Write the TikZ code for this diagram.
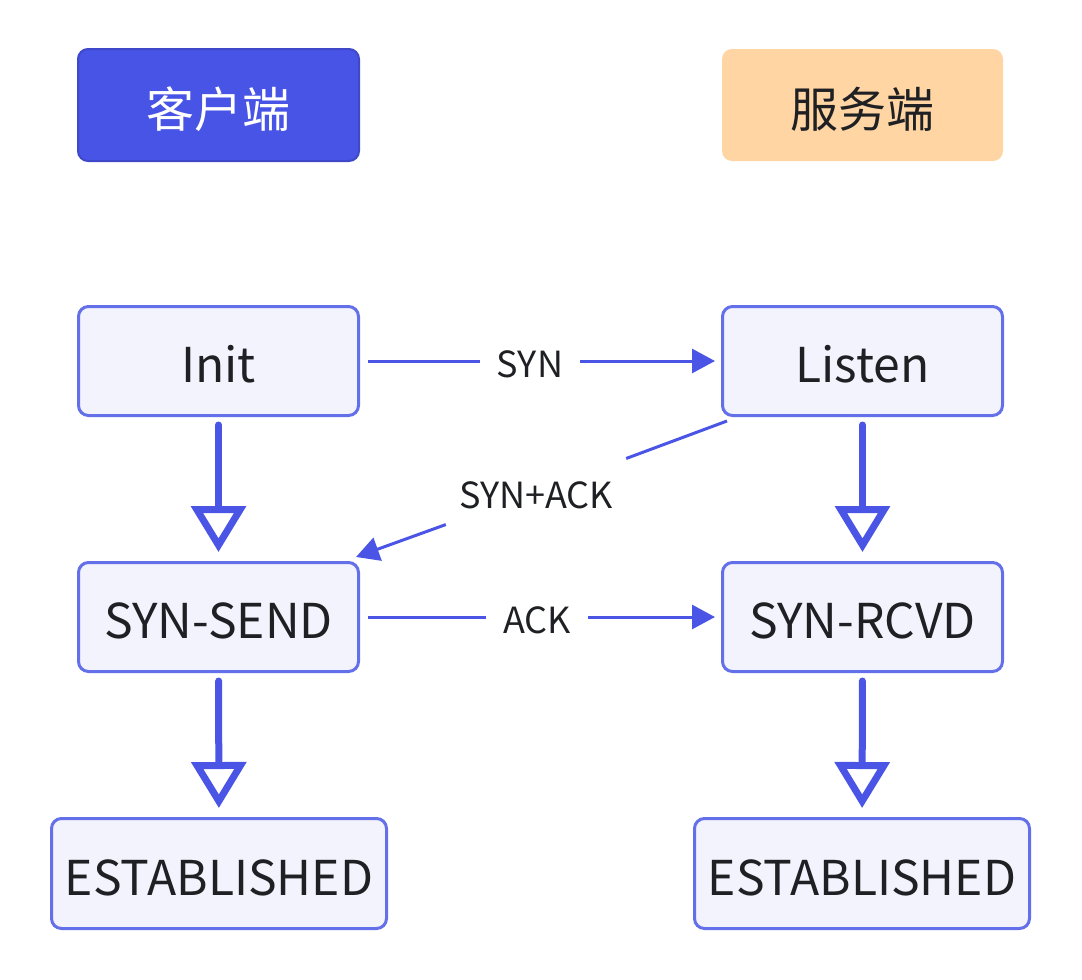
\documentclass[tikz,border=0pt]{standalone}
\usepackage{fontspec}
\setmainfont{Noto Sans CJK SC}
\usetikzlibrary{arrows.meta}
\definecolor{hdrblue}{HTML}{4854E6}
\definecolor{hdrborder}{HTML}{3E48C9}
\definecolor{peach}{HTML}{FFD5A3}
\definecolor{nodefill}{HTML}{F3F3FD}
\definecolor{nodeborder}{HTML}{6470EA}
\definecolor{linecol}{HTML}{4A55E6}
\definecolor{txt}{HTML}{1F2024}
\begin{document}
\begin{tikzpicture}[x=1pt,y=-1pt,
  state/.style={draw=nodeborder, line width=3pt, fill=nodefill, rounded corners=10pt,
    minimum width=280pt, minimum height=109pt, inner sep=0pt, text=txt,
    text height=43pt, text depth=0pt,
    font=\fontsize{48}{56}\selectfont},
  wide/.style={state, minimum width=335pt, minimum height=110pt},
  header/.style={rounded corners=10pt, minimum width=281pt, minimum height=112pt,
    inner sep=0pt, text height=48pt, text depth=3pt, font=\fontsize{48}{56}\selectfont},
  elabel/.style={inner xsep=17pt, inner ysep=0pt, minimum height=40pt, text=txt,
    text height=32pt, text depth=0pt,
    font=\fontsize{36}{42}\selectfont},
  msgline/.style={draw=linecol, line width=3pt},
  msgarrow/.style={msgline, -{Triangle[length=23pt, width=24pt]}},
  stepline/.style={draw=linecol, line width=7pt, line cap=round,
    -{Triangle[open, length=46pt, width=54pt, fill=white]}, shorten <=8pt, shorten >=9pt},
]
\useasboundingbox (0,0) rectangle (1082,980);
\node[header, fill=hdrblue, draw=hdrborder, line width=2pt, text=white] (cli) at (218.5,105) {客户端};
\node[header, fill=peach, text=txt] (srv) at (862.5,105) {服务端};

\node[state] (init) at (218.5,361) {Init};
\node[state] (listen) at (862.5,361) {Listen};
\node[state] (synsend) at (218.5,617) {SYN-SEND};
\node[state] (synrcvd) at (862.5,617) {SYN-RCVD};
\node[wide] (estl) at (219,873.5) {ESTABLISHED};
\node[wide] (estr) at (862,873.5) {ESTABLISHED};

\node[elabel] (synlab) at (530,361) {SYN};
\node[elabel] (acklab) at (537,617) {ACK};
\node[elabel, inner xsep=0pt, minimum width=180pt, minimum height=68pt] (salab) at (536,492) {SYN+ACK};

\draw[msgline, shorten <=8pt] (init) -- (synlab);
\draw[msgarrow, shorten >=6pt] (synlab) -- (listen);
\draw[msgline, shorten <=8pt] (synsend) -- (acklab);
\draw[msgarrow, shorten >=6pt] (acklab) -- (synrcvd);
\draw[msgline] ([xshift=6pt,yshift=-4pt]listen.south west) -- (salab);
\draw[msgarrow] (salab) -- ([xshift=-4pt,yshift=4pt]synsend.north east);

\draw[stepline] (init) -- (synsend);
\draw[stepline] (synsend) -- (estl);
\draw[stepline] (listen) -- (synrcvd);
\draw[stepline] (synrcvd) -- (estr);
\end{tikzpicture}
\end{document}
